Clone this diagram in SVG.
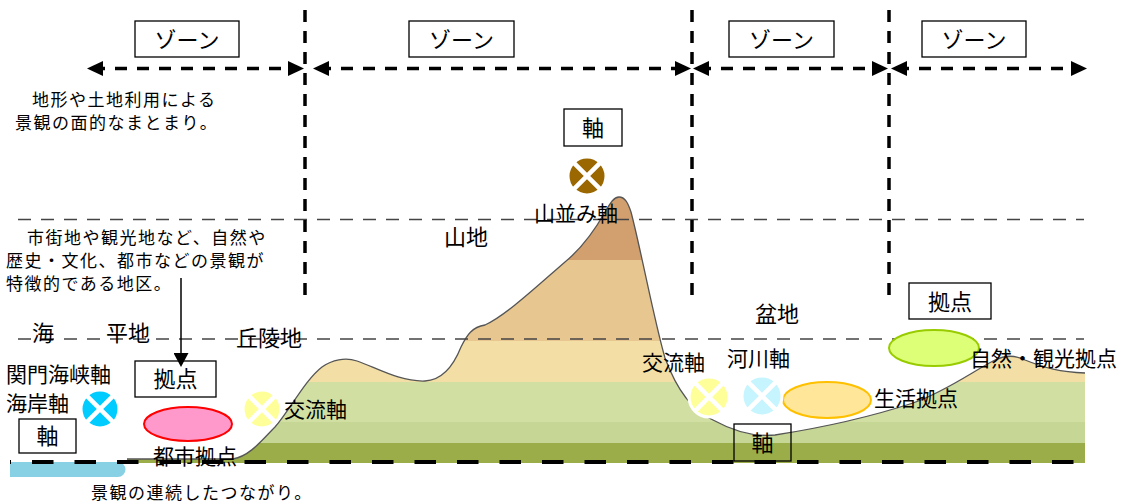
<svg xmlns="http://www.w3.org/2000/svg" width="1126" height="502" viewBox="0 0 1126 502">
  <style>
    text { font-family: "Noto Sans CJK JP", "Noto Sans", sans-serif; fill: #000; }
    .desc { font-size: 17px; letter-spacing: 1.5px; }
    .lbl { font-size: 21px; }
    .area { font-size: 22px; }
    .boxtxt { font-size: 22px; text-anchor: middle; }
    .box { fill: none; stroke: #000; stroke-width: 1.3; }
    .zone-arrow { fill: none; stroke: #000; stroke-width: 3.5; stroke-dasharray: 12 10; }
    .zone-div { fill: none; stroke: #000; stroke-width: 3.5; stroke-dasharray: 12 9; }
    .level { fill: none; stroke: #444; stroke-width: 1.5; stroke-dasharray: 13 10; }
    .x { stroke: #fff; stroke-width: 4.5; }
    .ring { stroke: #fff; stroke-width: 3; }
  </style>
  <defs>
    <marker id="head" markerUnits="userSpaceOnUse" markerWidth="16" markerHeight="15" refX="0" refY="7.5" orient="auto-start-reverse">
      <path d="M0,0 L16,7.5 L0,15 Z" fill="#000"/>
    </marker>
    <marker id="pointer" markerUnits="userSpaceOnUse" markerWidth="15" markerHeight="15" refX="0" refY="7.5" orient="auto">
      <path d="M0,0 L14,7.5 L0,15 Z" fill="#000"/>
    </marker>
    <path id="terrain" d="M127,459 L233,459 C250,456 262,440 275,427 C290,410 305,380 322,367 C332,360 345,357 357,361 C375,367 400,382 425,381 C445,380 455,362 461,347 C467,335 472,327 485,325 C505,316 535,288 565,262 C582,248 596,228 605,212 C611,202 614,197 619,197 C625,197 628,203 631,212 C641,250 654,320 665,358 C675,385 690,410 713,420 C735,432 755,437 775,435 C820,428 870,417 913,403 C945,392 975,370 995,360 C1005,355 1015,355 1025,360 C1045,368 1060,372 1085,373 L1085,463 L127,463 Z"/>
    <clipPath id="land"><use href="#terrain"/></clipPath>
  </defs>

  <!-- sea strip -->
  <path id="sea" d="M10,462 H118 A7.5,7.5 0 0 1 118,477 H10 Z" fill="#88d0e4"/>

  <!-- cross-section of the land, banded by elevation -->
  <g id="land-section">
    <g clip-path="url(#land)">
      <rect x="100" y="180" width="1000" height="80" fill="#d2a06e"/>
      <rect x="100" y="260" width="1000" height="81" fill="#e8c690"/>
      <rect x="100" y="341" width="1000" height="41" fill="#f3dfa5"/>
      <rect x="100" y="382" width="1000" height="40" fill="#d1dfa2"/>
      <rect x="100" y="422" width="1000" height="21" fill="#c6d795"/>
      <rect x="100" y="443" width="1000" height="20" fill="#9aad48"/>
    </g>
    <path d="M127,459 L233,459 C250,456 262,440 275,427 C290,410 305,380 322,367 C332,360 345,357 357,361 C375,367 400,382 425,381 C445,380 455,362 461,347 C467,335 472,327 485,325 C505,316 535,288 565,262 C582,248 596,228 605,212 C611,202 614,197 619,197 C625,197 628,203 631,212 C641,250 654,320 665,358 C675,385 690,410 713,420 C735,432 755,437 775,435 C820,428 870,417 913,403 C945,392 975,370 995,360 C1005,355 1015,355 1025,360 C1045,368 1060,372 1085,373" fill="none" stroke="#555" stroke-width="1.3"/>
  </g>

  <!-- guide lines and arrows -->
  <g id="connectors">
    <!-- elevation levels -->
    <line class="level" x1="18" y1="219.5" x2="1084" y2="219.5"/>
    <line class="level" x1="18" y1="339" x2="1084" y2="339"/>
    <!-- zone dividers -->
    <line class="zone-div" x1="305" y1="10" x2="305" y2="300"/>
    <line class="zone-div" x1="692" y1="10" x2="692" y2="300"/>
    <line class="zone-div" x1="889" y1="10" x2="889" y2="300"/>
    <!-- zone extents -->
    <line class="zone-arrow" x1="103" y1="68.5" x2="288" y2="68.5" stroke-dashoffset="-12" marker-start="url(#head)" marker-end="url(#head)"/>
    <line class="zone-arrow" x1="329" y1="68.5" x2="675" y2="68.5" stroke-dashoffset="-12" marker-start="url(#head)" marker-end="url(#head)"/>
    <line class="zone-arrow" x1="709" y1="68.5" x2="872" y2="68.5" stroke-dashoffset="-12" marker-start="url(#head)" marker-end="url(#head)"/>
    <line class="zone-arrow" x1="907" y1="68.5" x2="1071" y2="68.5" stroke-dashoffset="-12" marker-start="url(#head)" marker-end="url(#head)"/>
    <!-- landscape continuity baseline -->
    <line x1="10" y1="462" x2="1085" y2="462" stroke="#000" stroke-width="4" stroke-dasharray="21.5 21" stroke-dashoffset="20.5"/>
    <!-- district pointer -->
    <line x1="181" y1="278" x2="181" y2="353" stroke="#000" stroke-width="1.5" marker-end="url(#pointer)"/>
  </g>

  <!-- zones -->
  <g id="zone-1"><rect class="box" x="135" y="21" width="104" height="36"/><text class="boxtxt" x="187" y="47.5">ゾーン</text></g>
  <g id="zone-2"><rect class="box" x="409" y="21" width="105" height="36"/><text class="boxtxt" x="461.5" y="47.5">ゾーン</text></g>
  <g id="zone-3"><rect class="box" x="729" y="21" width="105" height="36"/><text class="boxtxt" x="781.5" y="47.5">ゾーン</text></g>
  <g id="zone-4"><rect class="box" x="922" y="21" width="104" height="36"/><text class="boxtxt" x="974" y="47.5">ゾーン</text></g>

  <!-- descriptions -->
  <g id="zone-note">
    <text class="desc" x="32" y="106">地形や土地利用による</text>
    <text class="desc" x="15" y="129">景観の面的なまとまり。</text>
  </g>
  <g id="hub-note">
    <text class="desc" x="27" y="244">市街地や観光地など、自然や</text>
    <text class="desc" x="6" y="267">歴史・文化、都市などの景観が</text>
    <text class="desc" x="6" y="290">特徴的である地区。</text>
  </g>
  <g id="axis-note">
    <text class="desc" x="91" y="498.5">景観の連続したつながり。</text>
  </g>

  <!-- landform names -->
  <g id="landforms">
    <text class="area" x="32" y="340.5">海</text>
    <text class="area" x="106" y="340.5">平地</text>
    <text class="area" x="236" y="345.5">丘陵地</text>
    <text class="area" x="444" y="244.5">山地</text>
    <text class="area" x="755" y="321.5">盆地</text>
  </g>

  <!-- legend boxes -->
  <g id="axis-box-top"><rect class="box" x="564" y="109" width="58" height="37"/><text class="boxtxt" x="593" y="135.5">軸</text></g>
  <g id="hub-box-left"><rect class="box" x="135" y="361" width="81" height="36"/><text class="boxtxt" x="175.5" y="387">拠点</text></g>
  <g id="axis-box-left"><rect class="box" x="19" y="419" width="57" height="34"/><text class="boxtxt" x="47.5" y="444">軸</text></g>
  <g id="axis-box-valley"><rect class="box" x="734" y="424" width="57" height="37"/><text class="boxtxt" x="762.5" y="450.5">軸</text></g>
  <g id="hub-box-right"><rect class="box" x="909" y="283" width="82" height="36"/><text class="boxtxt" x="950" y="309.5">拠点</text></g>

  <!-- hubs -->
  <g id="hub-urban">
    <ellipse cx="188" cy="424" rx="44" ry="17" fill="#ff99cc" stroke="#ff0000" stroke-width="2"/>
    <text class="lbl" x="153" y="463.5">都市拠点</text>
  </g>
  <g id="hub-living">
    <ellipse cx="827" cy="400" rx="44" ry="18" fill="#ffe699" stroke="#ffc000" stroke-width="2"/>
    <text class="lbl" x="874" y="405.5">生活拠点</text>
  </g>
  <g id="hub-nature">
    <ellipse cx="934" cy="348" rx="45" ry="18" fill="#ddff77" stroke="#99cc00" stroke-width="2"/>
    <text class="lbl" x="970" y="365.5">自然・観光拠点</text>
  </g>

  <!-- axes -->
  <g id="axis-ridge">
    <circle class="ring" cx="587" cy="176" r="19" fill="#9a6700"/>
    <path class="x" d="M573.6,162.6 L600.4,189.4 M600.4,162.6 L573.6,189.4"/>
    <text class="lbl" x="534" y="220.5">山並み軸</text>
  </g>
  <g id="axis-coast">
    <circle class="ring" cx="100" cy="409" r="19" fill="#00ccff"/>
    <path class="x" d="M86.6,395.6 L113.4,422.4 M113.4,395.6 L86.6,422.4"/>
    <text class="lbl" x="6" y="381.5">関門海峡軸</text>
    <text class="lbl" x="6" y="410.5">海岸軸</text>
  </g>
  <g id="axis-exchange-west">
    <circle class="ring" cx="262" cy="409" r="19" fill="#ffff99"/>
    <path class="x" d="M248.6,395.6 L275.4,422.4 M275.4,395.6 L248.6,422.4"/>
    <text class="lbl" x="284" y="416.5">交流軸</text>
  </g>
  <g id="axis-exchange-east">
    <circle class="ring" cx="709" cy="397" r="20" fill="#ffff99"/>
    <path class="x" d="M694.9,382.9 L723.1,411.1 M723.1,382.9 L694.9,411.1"/>
    <text class="lbl" x="642" y="369.5">交流軸</text>
  </g>
  <g id="axis-river">
    <circle class="ring" cx="762" cy="396" r="20" fill="#c6f5ff"/>
    <path class="x" d="M747.9,381.9 L776.1,410.1 M776.1,381.9 L747.9,410.1"/>
    <text class="lbl" x="727" y="365.5">河川軸</text>
  </g>
</svg>
